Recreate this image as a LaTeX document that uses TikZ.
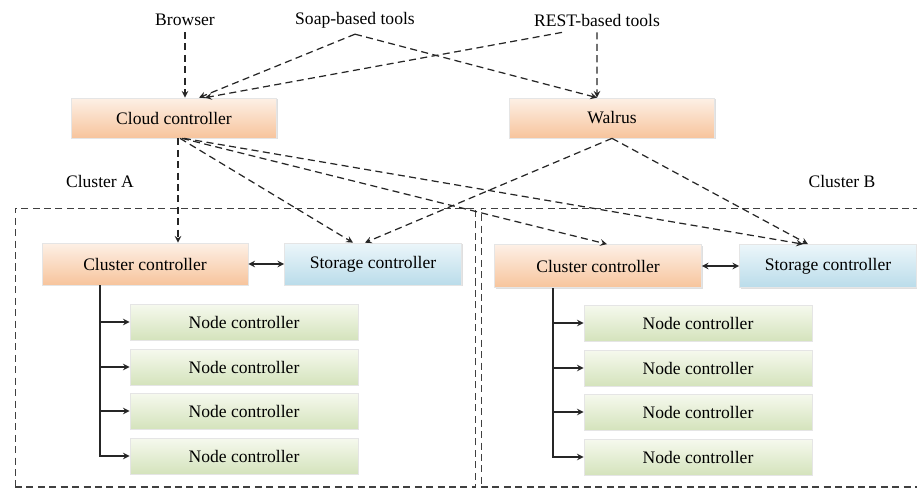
\documentclass[tikz,border=0pt]{standalone}
\usepackage{fontspec}
\setmainfont{Liberation Serif}
\newfontfamily\diagfont{Liberation Serif}
\usetikzlibrary{arrows,positioning,shadows}

\definecolor{ctrltop}{RGB}{253,240,230}
\definecolor{ctrlbot}{RGB}{247,196,156}
\definecolor{storetop}{RGB}{236,246,250}
\definecolor{storebot}{RGB}{186,220,234}
\definecolor{nodetop}{RGB}{246,249,238}
\definecolor{nodebot}{RGB}{212,227,188}

\begin{document}
\begin{tikzpicture}[
    x=0.02cm, y=-0.02cm,
    box/.style={rectangle, draw=gray!20, minimum height=0.8cm, font=\diagfont\fontsize{10}{12}\selectfont,
        drop shadow={opacity=0.25, shadow xshift=0.8pt, shadow yshift=-0.8pt}},
    ctrl/.style={box, top color=ctrltop, bottom color=ctrlbot, minimum width=4.1cm},
    store/.style={box, top color=storetop, bottom color=storebot, minimum width=3.54cm},
    nodectrl/.style={box, top color=nodetop, bottom color=nodebot, minimum width=4.56cm, minimum height=0.72cm},
    cluster/.style={rectangle, draw=black!75, line width=0.6pt, dash pattern=on 4pt off 2.5pt, inner sep=0pt},
    label/.style={font=\diagfont\fontsize{10}{12}\selectfont},
    dasharrow/.style={-stealth, line width=0.7pt, dash pattern=on 4pt off 2.5pt, draw=black!85},
    arrow/.style={-stealth, line width=0.7pt, draw=black!85}
]
\useasboundingbox (0,0) rectangle (917,491);

% Clients
\node[label] (browser) at (185,20) {Browser};
\node[label] (soap) at (355,20) {Soap-based tools};
\node[label] (rest) at (597,20) {REST-based tools};

% Front-end services
\node[ctrl] (cloud) at (174,118) {Cloud controller};
\node[ctrl] (walrus) at (612,118) {Walrus};

% Cluster frames
\node[cluster, minimum width=9.22cm, minimum height=5.58cm] (clusterA) at (245.5,347.5) {};
\node[cluster, minimum width=8.8cm, minimum height=5.58cm] (clusterB) at (701,347.5) {};
\node[label] (labelA) at (100,181) {Cluster A};
\node[label] (labelB) at (842,181) {Cluster B};

% Cluster A
\node[ctrl, minimum width=4.12cm, minimum height=0.84cm] (clA) at (145,264) {Cluster controller};
\node[store, minimum height=0.84cm] (storA) at (373,264) {Storage controller};
\coordinate (trunkA) at (100,285);
\foreach \y [count=\i] in {322,367,411,456} {
    \node[nodectrl] (nA\i) at (244,\y) {Node controller};
    \draw[arrow] (trunkA) |- (nA\i.west);
}

% Cluster B
\node[ctrl, minimum width=4.14cm, minimum height=0.86cm] (clB) at (598,266) {Cluster controller};
\node[store, minimum height=0.86cm] (storB) at (828,266) {Storage controller};
\coordinate (trunkB) at (553,288);
\foreach \y [count=\i] in {323,368,412,457} {
    \node[nodectrl] (nB\i) at (698,\y) {Node controller};
    \draw[arrow] (trunkB) |- (nB\i.west);
}

% Cluster <-> storage
\draw[arrow, stealth-stealth] (clA) -- (storA);
\draw[arrow, stealth-stealth] (clB) -- (storB);

% Clients to services
\draw[dasharrow] (browser.south) -- (browser.south |- cloud.north);
\draw[dasharrow] (soap.south) -- ([xshift=0.5cm]cloud.north);
\draw[dasharrow] (soap.south) -- ([xshift=-0.3cm]walrus.north);
\draw[dasharrow] ([xshift=-0.7cm]rest.south) -- ([xshift=0.62cm]cloud.north);
\draw[dasharrow] (rest.south) -- ([xshift=-0.3cm]walrus.north);

% Services to clusters
\draw[dasharrow] ([xshift=0.08cm]cloud.south) -- ([xshift=0.08cm]cloud.south |- clA.north);
\draw[dasharrow] ([xshift=0.12cm]cloud.south) -- ([xshift=-0.4cm]storA.north);
\draw[dasharrow] ([xshift=0.16cm]cloud.south) -- ([xshift=0.18cm]clB.north);
\draw[dasharrow] ([xshift=0.2cm]cloud.south) -- ([xshift=-0.5cm]storB.north);
\draw[dasharrow] (walrus.south) -- ([xshift=-0.16cm]storA.north);
\draw[dasharrow] (walrus.south) -- ([xshift=-0.4cm]storB.north);

\end{tikzpicture}
\end{document}
